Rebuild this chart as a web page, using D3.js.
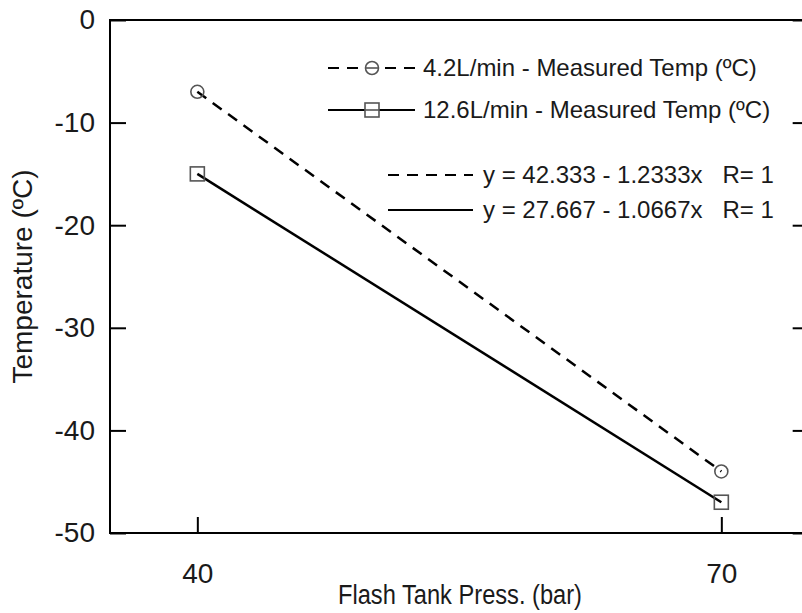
<!DOCTYPE html>
<html>
<head>
<meta charset="utf-8">
<script src="https://cdn.jsdelivr.net/npm/d3@7"></script>
<style>
  html, body { margin: 0; padding: 0; background: #fff; }
  svg { display: block; }
  text { font-family: Arial, "Liberation Sans", sans-serif; fill: #1a1a1a; white-space: pre; }
</style>
</head>
<body>
<svg id="chart" width="802" height="613"></svg>
<script>
// ---- data ----
const pressures = [40, 70];
const temp42 = [-7, -44];      // 4.2 L/min measured
const temp126 = [-15, -47];    // 12.6 L/min measured
const fit42 = { a: 42.333, b: -1.2333 };
const fit126 = { a: 27.667, b: -1.0667 };
const xTicks = [40, 70];
const yTicks = [0, -10, -20, -30, -40, -50];
const legendLabels = [
  "4.2L/min - Measured Temp (\u00BAC)",
  "12.6L/min - Measured Temp (\u00BAC)",
  "y = 42.333 - 1.2333x   R= 1",
  "y = 27.667 - 1.0667x   R= 1"
];

const svg = d3.select("#chart");
const L = 110, T = 20, B = 533;
const x = d3.scaleLinear().domain([35, 75]).range([L, L + 40 * (722 - 198) / 30]);
const y = d3.scaleLinear().domain([-50, 0]).range([B, T]);
const R = x(75);
const tickLen = 16;
const fs = 24;       // legend
const fsAxis = 28;   // tick labels + titles
const fmt = d => String(d);

// frame
svg.append("rect").attr("x", L).attr("y", T).attr("width", R - L).attr("height", B - T)
  .attr("fill", "none").attr("stroke", "#000").attr("stroke-width", 2);

// axes
const gL = svg.append("g").attr("transform", `translate(${L},0)`)
  .call(d3.axisLeft(y).tickValues(yTicks).tickSize(-tickLen).tickPadding(15).tickFormat(fmt));
const gR = svg.append("g").attr("transform", `translate(${R},0)`)
  .call(d3.axisRight(y).tickValues(yTicks).tickSize(-tickLen).tickFormat(""));
const gB = svg.append("g").attr("transform", `translate(0,${B})`)
  .call(d3.axisBottom(x).tickValues(xTicks).tickSize(-tickLen).tickPadding(30).tickFormat(fmt));
[gL, gR, gB].forEach(g => {
  g.select(".domain").remove();
  g.selectAll(".tick line").attr("stroke", "#000").attr("stroke-width", 2);
  g.selectAll("text").style("font-size", fsAxis + "px").attr("fill", "#1a1a1a").attr("font-family", "Arial, 'Liberation Sans', sans-serif");
});

// axis titles
svg.append("text").attr("x", 460).attr("y", 604).attr("text-anchor", "middle")
  .style("font-size", "27px").attr("textLength", 244).attr("lengthAdjust", "spacingAndGlyphs")
  .text("Flash Tank Press. (bar)");
svg.append("text").attr("transform", `translate(32,${(T + B) / 2}) rotate(-90)`).attr("text-anchor", "middle")
  .style("font-size", fsAxis + "px").text("Temperature (\u00BAC)");

// regression lines
const line = d3.line().x(d => x(d[0])).y(d => y(d[1]));
const fitPts = f => pressures.map(p => [p, f.a + f.b * p]);
const dash = "11,8";
svg.append("path").datum(fitPts(fit42)).attr("d", line).attr("fill", "none")
  .attr("stroke", "#000").attr("stroke-width", 2.5).attr("stroke-dasharray", dash);
svg.append("path").datum(fitPts(fit126)).attr("d", line).attr("fill", "none")
  .attr("stroke", "#000").attr("stroke-width", 2.5);

// markers
const mColor = "#555";
svg.selectAll(".c42").data(pressures.map((p, i) => [p, temp42[i]])).join("circle")
  .attr("cx", d => x(d[0])).attr("cy", d => y(d[1])).attr("r", 6.5)
  .attr("fill", "none").attr("stroke", mColor).attr("stroke-width", 1.6);
svg.selectAll(".s126").data(pressures.map((p, i) => [p, temp126[i]])).join("rect")
  .attr("x", d => x(d[0]) - 7).attr("y", d => y(d[1]) - 7).attr("width", 14).attr("height", 14)
  .attr("fill", "none").attr("stroke", mColor).attr("stroke-width", 1.6);

// legend
const lg = svg.append("g");
// row 1
lg.append("line").attr("x1", 328).attr("x2", 415).attr("y1", 68).attr("y2", 68)
  .attr("stroke", "#000").attr("stroke-width", 2).attr("stroke-dasharray", dash);
lg.append("circle").attr("cx", 372).attr("cy", 68).attr("r", 6.5).attr("fill", "#fff")
  .attr("stroke", mColor).attr("stroke-width", 1.6);
lg.append("line").attr("x1", 366).attr("x2", 378).attr("y1", 68).attr("y2", 68)
  .attr("stroke", mColor).attr("stroke-width", 1.6);
lg.append("text").attr("x", 423).attr("y", 68).attr("dy", "0.35em").style("font-size", fs + "px").text(legendLabels[0]);
// row 2
lg.append("line").attr("x1", 328).attr("x2", 415).attr("y1", 110).attr("y2", 110)
  .attr("stroke", "#000").attr("stroke-width", 2);
lg.append("rect").attr("x", 365).attr("y", 103).attr("width", 14).attr("height", 14).attr("fill", "#fff")
  .attr("stroke", mColor).attr("stroke-width", 1.6);
lg.append("line").attr("x1", 365).attr("x2", 379).attr("y1", 110).attr("y2", 110)
  .attr("stroke", mColor).attr("stroke-width", 1.6);
lg.append("text").attr("x", 423).attr("y", 110).attr("dy", "0.35em").style("font-size", fs + "px").text(legendLabels[1]);
// row 3
lg.append("line").attr("x1", 388).attr("x2", 473).attr("y1", 175).attr("y2", 175)
  .attr("stroke", "#000").attr("stroke-width", 2).attr("stroke-dasharray", dash);
lg.append("text").attr("x", 483).attr("y", 175).attr("dy", "0.35em").style("font-size", fs + "px").text(legendLabels[2]);
// row 4
lg.append("line").attr("x1", 388).attr("x2", 473).attr("y1", 210).attr("y2", 210)
  .attr("stroke", "#000").attr("stroke-width", 2);
lg.append("text").attr("x", 483).attr("y", 210).attr("dy", "0.35em").style("font-size", fs + "px").text(legendLabels[3]);
</script>
</body>
</html>
